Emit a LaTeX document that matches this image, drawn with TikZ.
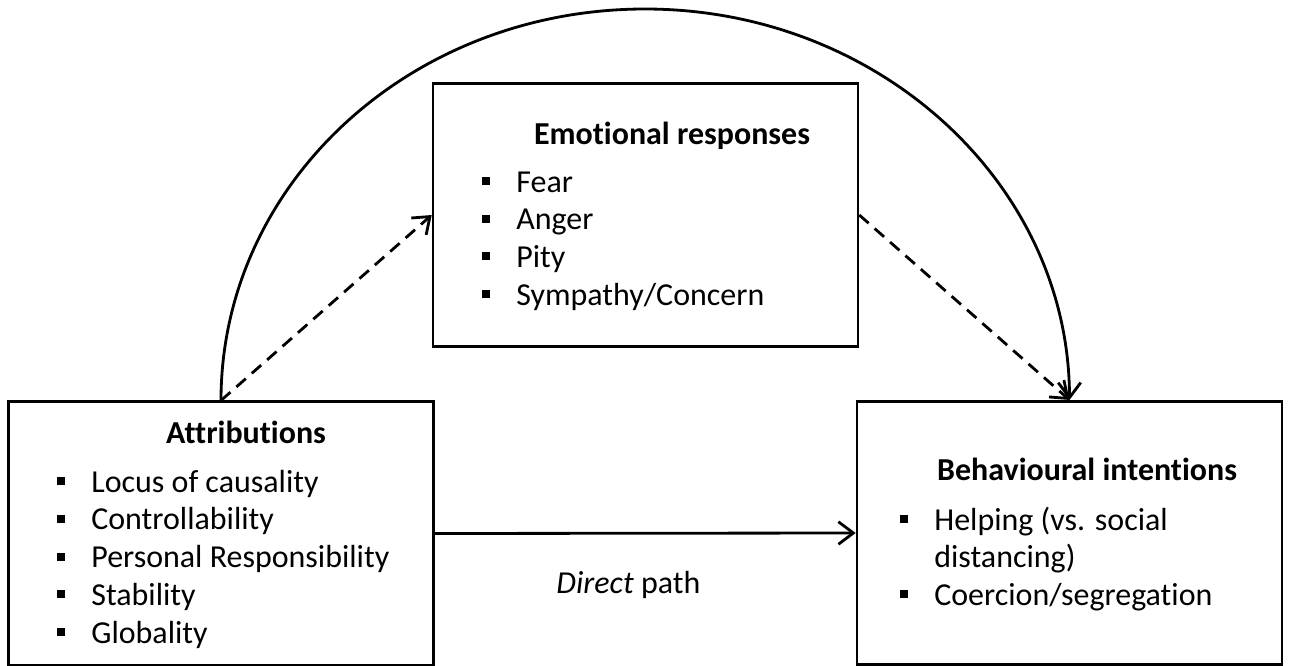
\documentclass[tikz,border=0pt]{standalone}
\usepackage{fontspec}
\setmainfont{Carlito}[Ligatures=NoCommon]
\usetikzlibrary{arrows.meta}

\newcommand{\blt}{\makebox[0.68cm][l]{\rule[0.14cm]{0.16cm}{0.16cm}}}

\begin{document}
\begin{tikzpicture}[
  x=0.02cm, y=-0.02cm,
  box/.style={rectangle, draw, line width=1.5pt, minimum width=8.5cm, minimum height=5.27cm, inner sep=0pt},
  title/.style={font=\fontsize{18.2}{22}\selectfont\bfseries, anchor=base, inner sep=0pt},
  item/.style={font=\fontsize{18.2}{22}\selectfont, anchor=base west, inner sep=0pt},
  link/.style={line width=1.6pt, -{Straight Barb[length=0.3cm, width=0.45cm, line width=1.6pt]}},
  dlink/.style={link, dash pattern=on 0.25cm off 0.16cm}
]
\useasboundingbox (0,0) rectangle (1289,666);

% Boxes
\node[box] (attr) at (221,533.5) {};
\node[box] (emo) at (645.5,215) {};
\node[box] (behav) at (1069.5,533) {};

% Titles
\node[title] (attr-t) at (246,443) {Attributions};
\node[title] (emo-t) at (672,144) {Emotional responses};
\node[title] (behav-t) at (1087,480) {Behavioural intentions};

% Lists
\foreach \t [count=\i] in {Locus of causality, Controllability, Personal Responsibility, Stability, Globality}
  \node[item] (attr-\i) at (57,{492+37.8*(\i-1)}) {\blt\t};
\foreach \t [count=\i] in {Fear, Anger, Pity, Sympathy/Concern}
  \node[item] (emo-\i) at (482,{192+37.7*(\i-1)}) {\blt\t};
\node[item] (behav-1) at (900,530) {\blt Helping (vs. social};
\node[item] (behav-1b) at (934,567) {distancing)};
\node[item] (behav-2) at (900,605) {\blt Coercion/segregation};

% Arrows
\draw[link] (attr.east) -- node[pos=0.46, below=0.62cm, font=\fontsize{18.2}{22}\selectfont] (direct) {\textit{Direct} path} (behav.west);
\draw[dlink] (attr.north) -- (emo.west);
\draw[dlink] (emo.east) -- (behav.north);
\draw[link] (attr.north) .. controls (221,184) and (410,9) .. (645,9)
  .. controls (879,9) and (1069,184) .. (behav.north);
\end{tikzpicture}
\end{document}
